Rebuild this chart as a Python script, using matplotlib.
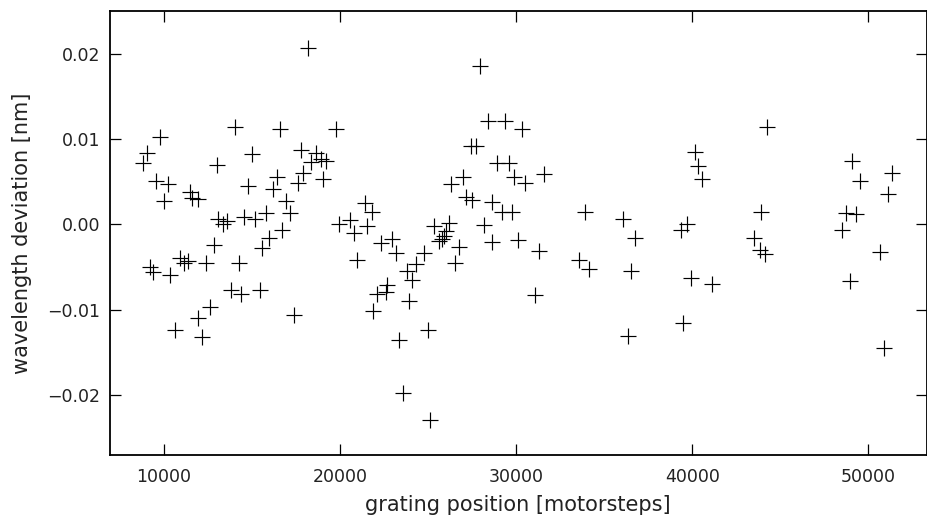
import matplotlib
matplotlib.use('Agg')
import matplotlib.pyplot as plt

# grating position [motorsteps] and wavelength deviation [nm]
position = [8777, 9003, 9757, 9190, 9377, 9530, 9983, 10226, 10362, 10606,
            10900, 11150, 11350, 11450, 11600, 11950, 11925, 12174, 12401, 12588,
            12831, 13024, 13050, 13350, 13550, 13816, 14003, 14247, 14383, 14530,
            14757, 14983, 15136, 15419, 15551, 15759, 15985, 16173, 16422, 16608,
            16705, 16931, 17158, 17401, 17628, 17780, 17911, 18155, 18350, 18600,
            18900, 19200, 19003, 19762, 19949, 20572, 20798, 20950, 21410, 21820,
            21500, 21874, 22118, 22310, 22593, 22684, 22933, 23160, 23347, 23590,
            23816, 23913, 24100, 24326, 24761, 25000, 25102, 25328, 25612, 25764,
            25900, 26030, 26178, 26308, 26518, 26744, 26993, 27123, 27406, 27500,
            27689, 27933, 28160, 28386, 28596, 28630, 28879, 29196, 29349, 29575,
            29762, 29859, 30102, 30329, 30521, 31086, 31274, 31597, 33539, 33918,
            34105, 36087, 36331, 36523, 36750, 39354, 39485, 39672, 39921, 40147,
            40334, 40561, 41127, 43505, 43826, 43918, 44144, 44258, 48505, 48732,
            48924, 49054, 49299, 49490, 50680, 50866, 51093, 51337]
deviation = [0.0072, 0.0084, 0.0102, -0.0050, -0.0056, 0.0051, 0.0027, 0.0047, -0.0059, -0.0123,
             -0.0039, -0.0045, -0.0043, 0.0038, 0.0031, 0.0030, -0.0110, -0.0132, -0.0045, -0.0097,
             -0.0024, 0.0070, 0.0006, 0.0000, 0.0004, -0.0077, 0.0114, -0.0045, -0.0081, 0.0009,
             0.0045, 0.0083, 0.0007, -0.0077, -0.0027, 0.0014, -0.0016, 0.0042, 0.0055, 0.0112,
             -0.0006, 0.0027, 0.0014, -0.0106, 0.0048, 0.0087, 0.0060, 0.0206, 0.0073, 0.0084,
             0.0077, 0.0074, 0.0053, 0.0112, 0.0000, 0.0005, -0.0010, -0.0041, 0.0025, 0.0015,
             -0.0002, -0.0101, -0.0081, -0.0022, -0.0079, -0.0071, -0.0017, -0.0033, -0.0135, -0.0197,
             -0.0054, -0.0090, -0.0065, -0.0046, -0.0033, -0.0123, -0.0229, -0.0002, -0.0019, -0.0017,
             -0.0013, -0.0008, 0.0002, 0.0047, -0.0045, -0.0026, 0.0056, 0.0032, 0.0092, 0.0029,
             0.0092, 0.0186, -0.0001, 0.0121, -0.0021, 0.0026, 0.0072, 0.0015, 0.0121, 0.0072,
             0.0015, 0.0056, -0.0018, 0.0112, 0.0049, -0.0083, -0.0031, 0.0059, -0.0042, 0.0015,
             -0.0052, 0.0007, -0.0130, -0.0054, -0.0016, -0.0007, -0.0115, 0.0001, -0.0063, 0.0085,
             0.0068, 0.0053, -0.0070, -0.0016, -0.0030, 0.0015, -0.0034, 0.0114, -0.0007, 0.0014,
             -0.0066, 0.0074, 0.0012, 0.0051, -0.0032, -0.0144, 0.0036, 0.0060]

x_ticks = [10000, 20000, 30000, 40000, 50000]
y_ticks = [-0.02, -0.01, 0.00, 0.01, 0.02]

fig = plt.figure(figsize=(9.28, 5.19), dpi=100)
ax = fig.add_axes([0.118, 0.123, 0.8805, 0.856])
ax.plot(position, deviation, '+', color='black', markersize=11, markeredgewidth=0.85)

ax.set_xlim(6900, 53300)
ax.set_ylim(-0.027, 0.025)
ax.set_xticks(x_ticks)
ax.set_yticks(y_ticks)
ax.set_yticklabels([f'{v:.2f}'.replace('-', '\u2212') for v in y_ticks])

ax.tick_params(direction='in', length=8, width=0.9, top=True, right=True,
               labelsize=12.5, colors='black', labelcolor='#222222')
ax.tick_params(axis='x', pad=9)
ax.tick_params(axis='y', pad=6.5)
for s in ax.spines.values():
    s.set_linewidth(1.3)

ax.set_xlabel('grating position [motorsteps]', fontsize=15, labelpad=7, color='#222222')
ax.set_ylabel('wavelength deviation [nm]', fontsize=15, labelpad=11, color='#222222')

fig.savefig('out.png', dpi=100)
